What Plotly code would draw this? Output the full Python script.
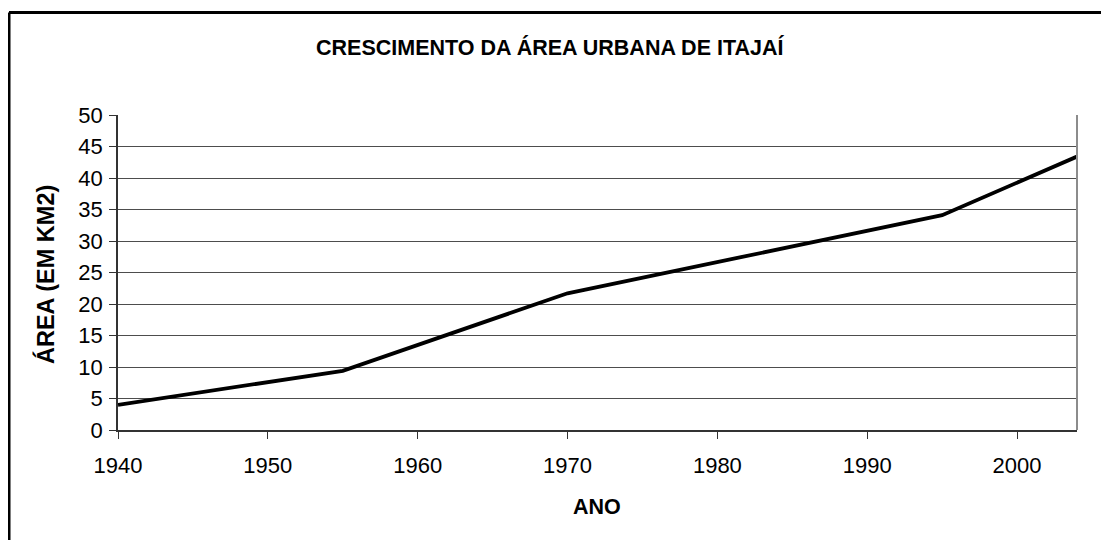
import plotly.graph_objects as go

anos = [1940, 1955, 1970, 1995, 2004]
area_km2 = [4.0, 9.4, 21.7, 34.1, 43.4]

x_ticks = [1940, 1950, 1960, 1970, 1980, 1990, 2000]
y_ticks = [0, 5, 10, 15, 20, 25, 30, 35, 40, 45, 50]

titulo = "CRESCIMENTO DA ÁREA URBANA DE ITAJAÍ"
titulo_x = "ANO"
titulo_y = "ÁREA (EM KM2)"

FONT = "Liberation Sans, Arial, sans-serif"
OFF = 8  # page body margin in the browser
W, H = 1109, 540
# target pixel positions in the screenshot, shifted by the page margin
L, R, T, B = 118 - OFF, 1077 - OFF, 115 - OFF, 430 - OFF

fig = go.Figure()
fig.add_trace(go.Scatter(
    x=anos, y=area_km2, mode="lines",
    line=dict(color="black", width=3.8),
    showlegend=False, hoverinfo="skip",
))

fig.update_layout(
    width=W, height=H,
    margin=dict(l=L, r=W - R, t=T, b=H - B, pad=0),
    paper_bgcolor="white", plot_bgcolor="white",
    font=dict(family=FONT, size=22, color="black"),
    showlegend=False,
)

fig.update_xaxes(
    range=[1940, 2004], tickvals=x_ticks, ticktext=[str(v) for v in x_ticks],
    showgrid=False, zeroline=False,
    showline=True, linecolor="#333333", linewidth=1.5,
    ticks="outside", ticklen=7, tickcolor="#333333", tickwidth=1.2,
    tickfont=dict(family=FONT, size=22, color="black"),
    ticklabelstandoff=8,
)
fig.update_yaxes(
    range=[0, 50], tickvals=y_ticks, ticktext=[str(v) for v in y_ticks],
    showgrid=True, gridcolor="#4d4d4d", gridwidth=1.1,
    zeroline=False,
    showline=True, linecolor="#333333", linewidth=1.5,
    ticks="outside", ticklen=7, tickcolor="#333333", tickwidth=1.2,
    tickfont=dict(family=FONT, size=22, color="black"),
    ticklabelstandoff=2,
)

# plot-area right border (grey)
fig.add_shape(type="line", xref="paper", yref="paper", x0=1, x1=1, y0=0, y1=1,
              line=dict(color="#8c8c8c", width=2))

pw, ph = R - L, B - T
def px_x(px):
    return (px - OFF - L) / pw
def px_y(py):
    return (B - (py - OFF)) / ph

# outer chart border (left and top visible)
fig.add_shape(type="line", xref="paper", yref="paper",
              x0=px_x(9), x1=px_x(1130), y0=px_y(12.5), y1=px_y(12.5),
              line=dict(color="black", width=3))
fig.add_shape(type="line", xref="paper", yref="paper",
              x0=px_x(9), x1=px_x(9), y0=px_y(12.5), y1=px_y(570),
              line=dict(color="black", width=3))

fig.add_annotation(text=f"<b>{titulo}</b>", xref="paper", yref="paper",
                   x=px_x(550), y=px_y(47), xanchor="center", yanchor="middle",
                   showarrow=False, font=dict(family=FONT, size=21.5, color="black"))
fig.add_annotation(text=f"<b>{titulo_x}</b>", xref="paper", yref="paper",
                   x=px_x(597), y=px_y(507), xanchor="center", yanchor="middle",
                   showarrow=False, font=dict(family=FONT, size=21.5, color="black"))
fig.add_annotation(text=f"<b>{titulo_y}</b>", xref="paper", yref="paper",
                   x=px_x(45), y=px_y(275), xanchor="center", yanchor="middle",
                   textangle=-90,
                   showarrow=False, font=dict(family=FONT, size=23.5, color="black"))

fig.write_html("out.html")
